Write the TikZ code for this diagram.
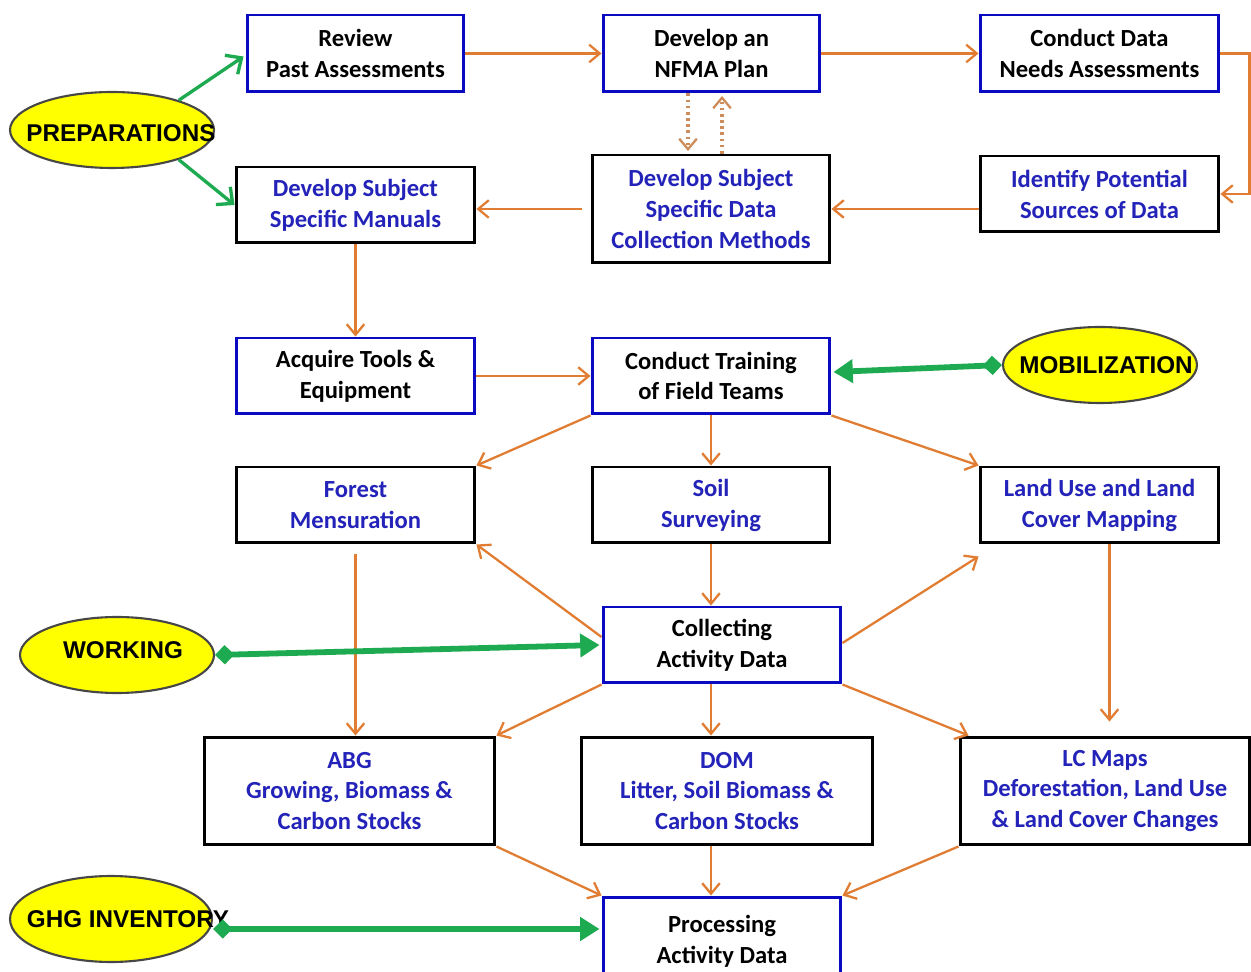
\documentclass[tikz,border=0pt]{standalone}
\usepackage{fontspec}
\setmainfont{Carlito}
\newfontfamily\arialf{Liberation Sans}
\usetikzlibrary{arrows.meta,calc,shapes.geometric}
\definecolor{bblue}{RGB}{10,10,195}
\definecolor{tblue}{RGB}{35,35,185}
\definecolor{oline}{RGB}{225,125,50}
\definecolor{odot}{RGB}{205,140,90}
\definecolor{gline}{RGB}{30,170,80}
\definecolor{yfill}{RGB}{255,255,0}
\definecolor{egray}{RGB}{70,70,70}
\tikzset{
  box/.style={draw, line width=1.7pt, fill=white, align=center, inner sep=2pt,
    font=\fontsize{14}{17.6}\selectfont\bfseries},
  bluebox/.style={box, draw=bblue, text=black},
  blackbox/.style={box, draw=black, text=tblue},
  oval/.style={ellipse, draw=egray, line width=1.2pt, fill=yfill, inner sep=0pt},
  ovaltext/.style={font=\arialf\fontsize{13.8}{16}\selectfont\bfseries, text=black, inner sep=0pt},
  oarr/.style={draw=oline, line width=1.3pt, -{Straight Barb[length=6pt,width=10pt,line width=1.3pt]}},
  odotarr/.style={draw=odot, line width=1.8pt, dash pattern=on 1.5pt off 2pt, -{Straight Barb[length=6pt,width=10pt,line width=1.3pt,sep]}},
  gthin/.style={draw=gline, line width=1.9pt, -{Straight Barb[length=7pt,width=13pt,line width=1.9pt]}},
  gthick/.style={draw=gline, line width=3.3pt, {Diamond[length=11pt,width=11pt]}-{Triangle[length=11pt,width=13pt]}},
}
\begin{document}
\begin{tikzpicture}[x=0.02cm,y=0.02cm]
\useasboundingbox[fill=white] (0,0) rectangle (1251,971);
% boxes
\node[bluebox, minimum width=4.34cm, minimum height=1.54cm] (rev) at (355.5,917.5) {Review\\Past Assessments};
\node[bluebox, minimum width=4.34cm, minimum height=1.54cm] (nfma) at (711.5,917.5) {Develop an\\NFMA Plan};
\node[bluebox, minimum width=4.78cm, minimum height=1.54cm] (cond) at (1099.5,917.5) {Conduct Data\\Needs Assessments};
\node[blackbox, minimum width=4.78cm, minimum height=1.52cm] (man) at (355.5,766) {Develop Subject\\Specific Manuals};
\node[blackbox, minimum width=4.76cm, minimum height=2.16cm] (meth) at (711,762) {Develop Subject\\Specific Data\\Collection Methods};
\node[blackbox, minimum width=4.78cm, minimum height=1.52cm] (ident) at (1099.5,777) {Identify Potential\\Sources of Data};
\node[bluebox, minimum width=4.78cm, minimum height=1.52cm] (acq) at (355.5,595) {Acquire Tools \&\\Equipment};
\node[bluebox, minimum width=4.76cm, minimum height=1.52cm] (train) at (711,595) {Conduct Training\\of Field Teams};
\node[blackbox, minimum width=4.78cm, minimum height=1.52cm] (forest) at (355.5,466) {Forest\\Mensuration};
\node[blackbox, minimum width=4.76cm, minimum height=1.52cm] (soil) at (711,466) {Soil\\Surveying};
\node[blackbox, minimum width=4.78cm, minimum height=1.52cm] (land) at (1099.5,466) {Land Use and Land\\Cover Mapping};
\node[bluebox, minimum width=4.76cm, minimum height=1.52cm] (coll) at (722,326) {Collecting\\Activity Data};
\node[blackbox, minimum width=5.82cm, minimum height=2.16cm] (abg) at (349.5,180) {ABG\\Growing, Biomass \&\\Carbon Stocks};
\node[blackbox, minimum width=5.84cm, minimum height=2.16cm] (dom) at (727,180) {DOM\\Litter, Soil Biomass \&\\Carbon Stocks};
\node[blackbox, minimum width=5.80cm, minimum height=2.16cm] (lc) at (1105,180) {LC Maps\\Deforestation, Land Use\\\& Land Cover Changes};
\node[bluebox, minimum width=4.76cm, minimum height=1.76cm] (proc) at (722,30) {Processing\\Activity Data};
% ovals
\node[oval, minimum width=4.08cm, minimum height=1.52cm] (prep) at (112,841) {};
\node[ovaltext] (preptext) at (121,838) {PREPARATIONS};
\node[oval, minimum width=3.88cm, minimum height=1.52cm] (mob) at (1100,606) {};
\node[ovaltext] (mobtext) at (1106,606) {MOBILIZATION};
\node[oval, minimum width=3.88cm, minimum height=1.52cm] (work) at (117,316) {};
\node[ovaltext] (worktext) at (123,321) {WORKING};
\node[oval, minimum width=4.04cm, minimum height=1.72cm] (ghg) at (111,52) {};
\node[ovaltext] (ghgtext) at (128,52) {GHG INVENTORY};
% orange connectors
\draw[oarr] (rev.east) -- (nfma.west);
\draw[oarr] (nfma.east) -- (cond.west);
\draw[oarr] (cond.east) -- ++(29,0) |- (ident.east);
\draw[oarr] (meth.east -| ident.west) -- (meth.east);
\draw[oarr, shorten <=0.18cm] (meth.west) -- (meth.west -| man.east);
\draw[odotarr] ($(nfma.south)+(-23.5,0)$) coordinate (d1) -- (d1 |- meth.north);
\draw[odotarr] ($(meth.north)+(11,0)$) coordinate (d2) -- (d2 |- nfma.south);
\draw[oarr] (man.south) -- (acq.north);
\draw[oarr] (acq.east) -- (train.west);
\draw[oarr] (train.south west) -- (forest.north east);
\draw[oarr] (train.south) -- (soil.north);
\draw[oarr] (train.south east) -- (land.north west);
\draw[oarr] (soil.south) -- (soil.south |- coll.north);
\draw[oarr] ($(coll.west)+(0,8)$) -- (forest.south east);
\draw[oarr] ($(coll.east)+(0,2)$) -- ($(land.south west)+(0,-12)$);
\draw[oarr, shorten <=0.2cm] (forest.south) -- (forest.south |- abg.north);
\draw[oarr, shorten >=0.28cm] ($(land.south)+(10,0)$) coordinate (l1) -- (l1 |- lc.north);
\draw[oarr] (coll.south west) -- (abg.north east);
\draw[oarr] ($(coll.south)+(-11,0)$) coordinate (c1) -- (c1 |- dom.north);
\draw[oarr] (coll.south east) -- ($(lc.north west)+(10,0)$);
\draw[oarr] (abg.south east) -- (proc.north west);
\draw[oarr] ($(dom.south)+(-16,0)$) coordinate (c2) -- (c2 |- proc.north);
\draw[oarr] (lc.south west) -- (proc.north east);
% green connectors
\draw[gthin] (prep.24) -- ($(rev.west)+(-2,-3)$);
\draw[gthin] (prep.-24) -- (man.west);
\draw[gthick] (mob.west) -- ($(train.east)+(2,4)$);
\draw[gthick] (work.east) -- ($(coll.west)+(-2,0)$);
\draw[gthick] ($(ghg.east)+(0,-10)$) coordinate (g1) -- ($(g1 -| proc.west)+(-2,0)$);
\end{tikzpicture}
\end{document}
